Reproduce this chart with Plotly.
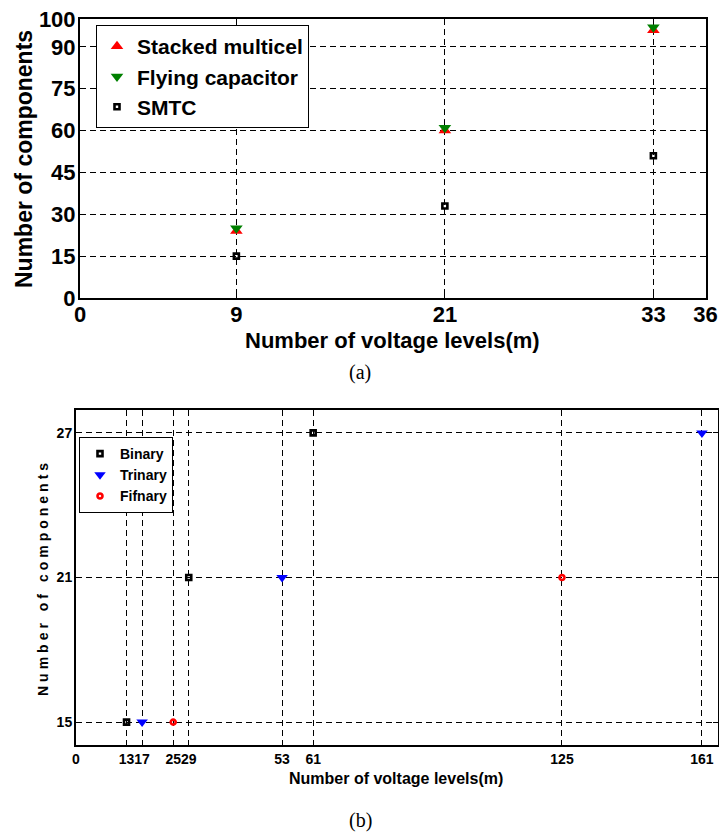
import plotly.graph_objects as go

# ---- data: panel (a)
levels_a = [9, 21, 33]
stacked_multicel = [24, 60, 96]
flying_capacitor = [25, 61, 97]
smtc = [15, 33, 51]
xticks_a = [0, 9, 21, 33, 36]
yticks_a = [0, 15, 30, 45, 60, 75, 90, 100]

# ---- data: panel (b)
binary_x = [13, 29, 61]
binary_y = [15, 21, 27]
trinary_x = [17, 53, 161]
trinary_y = [15, 21, 27]
fifnary_x = [25, 125]
fifnary_y = [15, 21]
xticks_b = [0, 13, 17, 25, 29, 53, 61, 125, 161]
yticks_b = [15, 21, 27]

W, H = 719, 832
def px(x): return x / W
def py(y): return 1 - y / H

BOLD = "Liberation Sans, Arial, sans-serif"
SERIF = "Liberation Serif, Times New Roman, serif"

fig = go.Figure()

fig.add_trace(go.Scatter(x=levels_a, y=stacked_multicel, mode="markers", name="Stacked multicel",
                         marker=dict(symbol="triangle-up", size=11, color="#FF0000"),
                         xaxis="x", yaxis="y", legend="legend"))
fig.add_trace(go.Scatter(x=levels_a, y=flying_capacitor, mode="markers", name="Flying capacitor",
                         marker=dict(symbol="triangle-down", size=11, color="#008000"),
                         xaxis="x", yaxis="y", legend="legend"))
fig.add_trace(go.Scatter(x=levels_a, y=smtc, mode="markers", name="SMTC",
                         marker=dict(symbol="square-open", size=5, color="black", line=dict(width=2.6, color="black")),
                         xaxis="x", yaxis="y", legend="legend"))

fig.add_trace(go.Scatter(x=binary_x, y=binary_y, mode="markers", name="Binary",
                         marker=dict(symbol="square-open", size=5, color="black", line=dict(width=2.6, color="black")),
                         xaxis="x2", yaxis="y2", legend="legend2"))
fig.add_trace(go.Scatter(x=trinary_x, y=trinary_y, mode="markers", name="Trinary",
                         marker=dict(symbol="triangle-down", size=10, color="#0000FF"),
                         xaxis="x2", yaxis="y2", legend="legend2"))
fig.add_trace(go.Scatter(x=fifnary_x, y=fifnary_y, mode="markers", name="Fifnary",
                         marker=dict(symbol="circle-open", size=5, color="#FF0000", line=dict(width=2.6, color="#FF0000")),
                         xaxis="x2", yaxis="y2", legend="legend2"))

axis_common = dict(showline=True, linecolor="black", linewidth=2, mirror="ticks",
                   ticks="inside", ticklen=5, tickcolor="black", tickwidth=1,
                   showgrid=True, gridcolor="black", gridwidth=1, griddash="6px,4px",
                   zeroline=False, tickmode="array", automargin=False, tickangle=0)

fig.update_layout(
    width=W, height=H, margin=dict(l=0, r=0, t=0, b=0, pad=0, autoexpand=False),
    paper_bgcolor="white", plot_bgcolor="white",
    xaxis=dict(axis_common, domain=[px(80), px(705.5)], range=[0, 36], tickvals=xticks_a,
               anchor="y", ticklabelstandoff=-4,
               tickfont=dict(family=BOLD, size=22, color="black", weight="bold")),
    yaxis=dict(axis_common, domain=[py(298), py(19)], range=[0, 100], tickvals=yticks_a,
               anchor="x", ticklabelstandoff=-2,
               tickfont=dict(family=BOLD, size=22, color="black", weight="bold")),
    xaxis2=dict(axis_common, domain=[px(76), px(717.5)], range=[0, 165], tickvals=xticks_b,
                anchor="y2", tickfont=dict(family=BOLD, size=14, color="black", weight="bold")),
    yaxis2=dict(axis_common, domain=[py(745), py(410)], range=[14.05, 27.95], tickvals=yticks_b,
                anchor="x2", ticklabelstandoff=-1,
                tickfont=dict(family=BOLD, size=14, color="black", weight="bold")),
    legend=dict(x=px(96), y=py(25), xanchor="left", yanchor="top",
                bordercolor="black", borderwidth=1, bgcolor="white",
                font=dict(family=BOLD, size=21, color="black", weight="bold"),
                itemwidth=30, tracegroupgap=0),
    legend2=dict(x=px(79), y=py(437), xanchor="left", yanchor="top",
                 bordercolor="black", borderwidth=1, bgcolor="white",
                 font=dict(family=BOLD, size=14, color="black", weight="bold"),
                 itemwidth=30, tracegroupgap=0),
    showlegend=True,
)

annots = [
    dict(text="Number of voltage levels(m)", x=px(392.5), y=py(340), font=dict(family=BOLD, size=22, weight="bold")),
    dict(text="Number of components", x=px(24), y=py(159), textangle=-90, font=dict(family=BOLD, size=23, weight="bold")),
    dict(text="(a)", x=px(360), y=py(372), font=dict(family=SERIF, size=20)),
    dict(text="Number of voltage levels(m)", x=px(396), y=py(778), font=dict(family=BOLD, size=16, weight="bold")),
    dict(text='<span style="letter-spacing:4px">Number of components</span>', x=px(43), y=py(578),
         textangle=-90, font=dict(family=BOLD, size=14, weight="bold")),
    dict(text="(b)", x=px(360), y=py(820), font=dict(family=SERIF, size=20)),
]
for a in annots:
    a.update(xref="paper", yref="paper", showarrow=False, xanchor="center", yanchor="middle")
    a["font"].setdefault("color", "black")
    fig.add_annotation(**a)

fig.write_html("out.html", config={"displayModeBar": False},
               post_script="document.body.style.margin='0px';document.body.style.overflow='hidden';")
